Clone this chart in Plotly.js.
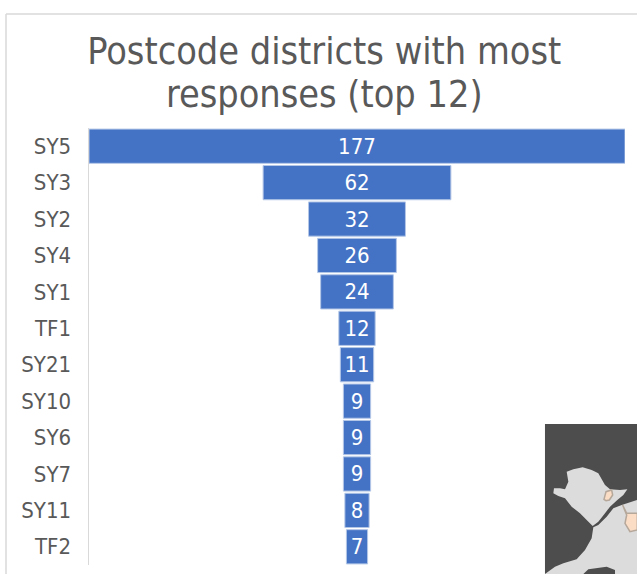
<!DOCTYPE html>
<html><head><meta charset="utf-8">
<script src="https://cdn.plot.ly/plotly-3.0.1.min.js"></script>
<style>html,body{margin:0;padding:0;background:#fff}</style></head>
<body><div id="chart" style="width:637px;height:574px"></div>
<script>
const districts = ["SY5","SY3","SY2","SY4","SY1","TF1","SY21","SY10","SY6","SY7","SY11","TF2"];
const responses = [177,62,32,26,24,12,11,9,9,9,8,7];
const W=637,H=574,L=89,R=12,T=128,B=9,FONT='"DejaVu Sans Condensed", "DejaVu Sans", sans-serif';
const pxX=x=>(x-L)/(W-L-R), pxY=y=>1-(y-T)/(H-T-B);
// inset map outlines, in zoom-crop coordinates of the reference picture
const mp=p=>'M'+p.map(q=>pxX(530+q[0]/3).toFixed(4)+','+pxY(410+q[1]/3).toFixed(4)).join('L')+'Z';
const sea=[[45,42],[322,42],[322,492],[45,492]];
const anglesey=[[110,185],[130,178],[158,172],[185,180],[205,190],[225,225],[240,238],[270,240],[292,238],[280,255],[262,270],[240,290],[225,310],[205,335],[188,348],[170,330],[150,310],[125,290],[105,265],[85,258],[70,250],[72,235],[90,235],[105,238],[115,215]];
const mainland=[[190,352],[205,345],[230,320],[250,295],[275,285],[322,270],[322,492],[45,492],[75,470],[100,460],[140,448],[165,420],[185,385]];
const inlet=[[160,492],[175,478],[230,470],[255,480],[255,492]];
const peach1=[[222,268],[228,245],[245,240],[248,255],[238,270],[228,272]];
const peach2=[[278,285],[290,310],[322,310],[322,360],[300,365],[285,340],[290,315]];
const sh=(p,fill,line)=>({type:'path',xref:'paper',yref:'paper',path:mp(p),fillcolor:fill,line:{color:line||fill,width:line?1.5:0},layer:'above'});
const frame=(x0,y0,x1,y1)=>({type:'line',xref:'paper',yref:'paper',x0:pxX(x0),y0:pxY(y0),x1:pxX(x1),y1:pxY(y1),line:{color:'#d9d9d9',width:1.5},layer:'below'});
Plotly.newPlot('chart',[{
  type:'funnel',orientation:'h',y:districts,x:responses,
  text:responses.map(String),textposition:'inside',textinfo:'text',insidetextanchor:'middle',
  textfont:{family:FONT,size:22,color:'#ffffff'},constraintext:'none',
  marker:{color:'#4472c4',line:{color:'#b4c7e7',width:1}},
  connector:{visible:false},hoverinfo:'y+x'
}],{
  width:W,height:H,paper_bgcolor:'#fff',plot_bgcolor:'#fff',showlegend:false,
  margin:{l:L,r:R,t:T,b:B,pad:0},
  funnelgap:0.06,
  title:{text:'Postcode districts with most<br>responses (top 12)',font:{family:FONT,size:37.5,color:'#595959'},x:0.509,xanchor:'center',y:0.889,yanchor:'middle'},
  xaxis:{range:[-88.5,88.5],visible:false,fixedrange:true},
  yaxis:{autorange:'reversed',type:'category',ticks:'',showgrid:false,zeroline:false,showline:true,linecolor:'#d9d9d9',linewidth:1.5,ticklen:0,ticklabelstandoff:12,
    tickfont:{family:FONT,size:22,color:'#595959'},fixedrange:true},
  shapes:[frame(6,14,637,14),frame(6,14,6,574),sh(sea,'#4d4d4d'),sh(mainland,'#dcdcdc'),sh(inlet,'#4d4d4d'),sh(anglesey,'#dcdcdc'),sh(peach1,'#fbdcc5','#b5a79a'),sh(peach2,'#fbdcc5','#b5a79a')]
},{displayModeBar:false,staticPlot:true}).then(gd=>{
  const lines=gd.querySelectorAll('.gtitle tspan.line');
  if(lines[1]) lines[1].setAttribute('dy','1.16em');
});
</script></body></html>
